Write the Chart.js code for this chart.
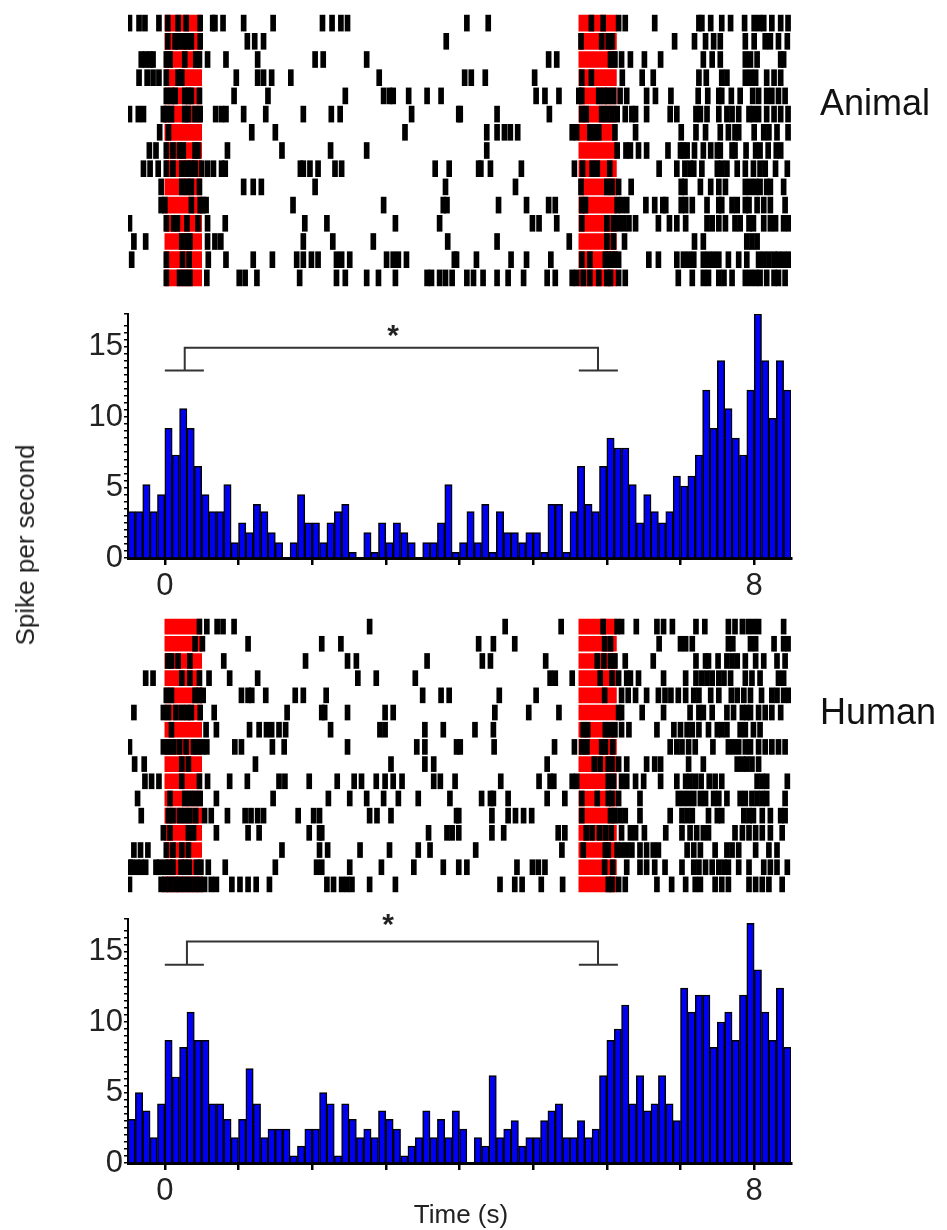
<!DOCTYPE html>
<html lang="en">
<head>
<meta charset="UTF-8">
<title>Raster and PSTH</title>
<script src="https://cdn.jsdelivr.net/npm/chart.js"></script>
<style>
  body { margin: 0; background: #fff; font-family: 'Liberation Sans', Arial, sans-serif; }
  .page { position: relative; width: 947px; height: 1230px; overflow: hidden; }
  .panel { position: absolute; left: 0; width: 947px; }
  .group { position: absolute; left: 820px; font-size: 36px; line-height: 1; color: #111; transform: translateY(-50%); }
  .ylabel { position: absolute; left: 25px; top: 545px; font-size: 26px; line-height: 1; color: #222;
            white-space: nowrap; transform: translate(-50%, -50%) rotate(-90deg); }
  .xlabel { position: absolute; left: 461px; top: 1214px; font-size: 26px; line-height: 1; color: #222;
            white-space: nowrap; transform: translate(-50%, -50%); }
</style>
</head>
<body>
<div class="page">
  <div class="panel" style="top:14px;height:273px"><canvas id="animalRaster"></canvas></div>
  <div class="panel" style="top:294px;height:316px"><canvas id="animalHist"></canvas></div>
  <div class="panel" style="top:618px;height:275px"><canvas id="humanRaster"></canvas></div>
  <div class="panel" style="top:899px;height:316px"><canvas id="humanHist"></canvas></div>
  <div class="group" style="top:103px">Animal</div>
  <div class="group" style="top:712px">Human</div>
  <div class="ylabel">Spike per second</div>
  <div class="xlabel">Time (s)</div>
</div>

<script>
  // time axis (s)
  const timeMin = -0.5, timeMax = 8.5;
  const timeTicks = [0, 1, 2, 3, 4, 5, 6, 7, 8];
  const timeTickLabels = [0, 8];
  const rateTickLabels = [0, 5, 10, 15];
  const rateMax = 17.3;

  // PSTH bins: 100 ms starting at -0.5 s
  const binStart = -0.5, binWidth = 0.1;

  // stimulus windows shaded in red on every trial
  const stimWindows = [[0, 0.5], [5.62, 6.13]];
  const spikeWidth = 0.068;

  const animalRate = [
    3.3, 3.3, 5.2, 3.3, 4.5, 9.2, 7.3, 10.6, 9.2, 6.5,
    4.5, 3.3, 3.3, 5.2, 1.1, 2.5, 1.8, 3.8, 3.3, 1.8,
    1.1, 0, 1.1, 4.5, 2.5, 2.5, 1.1, 2.5, 3.3, 3.8,
    0.4, 0, 1.8, 0.4, 2.5, 1.1, 2.5, 1.8, 1.1, 0,
    1.1, 1.1, 2.5, 5.2, 0.4, 1.1, 3.3, 1.1, 3.8, 0.4,
    3.3, 1.8, 1.8, 1.1, 1.8, 1.8, 0.4, 3.8, 3.8, 0.4,
    3.3, 6.5, 3.8, 3.3, 6.5, 8.5, 7.8, 7.8, 5.2, 2.5,
    4.5, 3.3, 2.5, 3.3, 5.8, 5.1, 5.8, 7.3, 11.9, 9.2,
    14.0, 10.6, 8.5, 7.3, 11.9, 17.3, 14.0, 9.9, 14.0, 11.9
  ];

  const humanRate = [
    3.1, 5.0, 3.7, 1.8, 4.2, 8.7, 6.1, 8.2, 10.7, 8.7,
    8.7, 4.2, 4.2, 3.1, 1.8, 3.1, 6.7, 4.2, 1.8, 2.4,
    2.4, 2.4, 0.5, 1.2, 2.4, 2.4, 5.0, 4.2, 0.5, 4.2,
    3.1, 1.8, 2.4, 1.8, 3.7, 3.1, 2.4, 0.5, 1.2, 1.8,
    3.7, 1.8, 3.1, 1.8, 3.7, 2.4, 0, 1.8, 1.2, 6.2,
    1.8, 2.4, 3.0, 1.2, 1.8, 1.8, 3.0, 3.7, 4.2, 1.8,
    1.8, 3.0, 1.8, 2.4, 6.2, 8.7, 9.5, 11.2, 4.2, 6.2,
    3.7, 4.2, 6.2, 4.2, 3.0, 12.4, 10.7, 11.9, 11.9, 8.2,
    10.0, 10.7, 8.7, 11.9, 17.0, 13.7, 10.7, 8.7, 12.4, 8.2
  ];

  // significance brackets: cap y, bridge y, left cap, right cap, stems, asterisk
  const animalBracket = { capY: 13.3, topY: 14.9, left: [0, 0.53], right: [5.62, 6.15], stems: [0.27, 5.88], star: [3.1, 15.95] };
  const humanBracket  = { capY: 14.05, topY: 15.7, left: [0, 0.53], right: [5.62, 6.15], stems: [0.30, 5.88], star: [3.03, 17.1] };

  // spike times (s), one array per trial
  const animalTrials = [
    [-0.48,-0.35,-0.27,-0.08,0.04,0.18,0.29,0.48,0.65,0.68,0.79,1.07,1.47,2.14,2.27,2.39,2.48,4.10,4.39,5.79,5.95,6.16,6.25,6.65,7.25,7.29,7.41,7.56,7.68,7.87,8.00,8.07,8.13,8.24,8.36,8.46],
    [0.04,0.14,0.18,0.25,0.30,0.36,0.48,1.12,1.22,1.34,3.82,5.65,5.93,6.02,6.07,6.92,7.19,7.34,7.45,7.54,7.88,8.00,8.15,8.22,8.33,8.45],
    [-0.32,-0.26,-0.20,-0.16,0.02,0.07,0.27,0.42,0.47,0.58,0.83,1.26,2.04,2.15,2.74,5.21,5.32,6.05,6.11,6.20,6.32,6.51,6.73,7.31,7.43,7.54,7.88,7.95,8.04,8.36,8.40],
    [-0.35,-0.24,-0.16,-0.08,0.02,0.18,0.23,0.97,1.26,1.34,1.45,1.71,2.91,4.07,4.16,4.35,5.02,5.66,5.79,6.21,6.48,6.63,7.25,7.35,7.56,7.63,7.88,7.95,8.02,8.17,8.27,8.36],
    [0.02,0.09,0.14,0.27,0.32,0.36,0.47,0.94,1.40,2.45,2.97,3.05,3.10,3.31,3.56,3.75,5.04,5.16,5.35,5.62,5.66,5.89,5.96,6.02,6.09,6.18,6.27,6.54,6.66,6.87,7.24,7.37,7.52,7.56,7.69,7.81,7.98,8.06,8.17,8.24,8.33,8.42],
    [-0.48,-0.36,-0.29,-0.02,0.02,0.09,0.27,0.32,0.41,0.48,0.69,0.77,0.83,1.07,1.37,1.88,2.26,2.38,3.35,3.99,4.01,4.51,5.22,5.66,5.72,5.93,6.00,6.07,6.14,6.25,6.34,6.39,6.54,6.86,6.95,7.21,7.27,7.36,7.52,7.63,7.70,7.79,7.93,7.99,8.06,8.17,8.27,8.36,8.46],
    [-0.07,0.05,1.18,1.50,3.26,4.37,4.51,4.61,4.69,4.79,5.53,5.59,5.77,5.82,5.89,6.11,6.39,7.01,7.21,7.34,7.54,7.65,7.74,7.79,8.00,8.13,8.20,8.31,8.46],
    [-0.21,-0.12,0.02,0.11,0.20,0.25,0.41,0.45,0.85,1.59,2.25,2.74,4.37,6.14,6.26,6.32,6.43,6.54,6.83,7.00,7.04,7.09,7.19,7.31,7.41,7.50,7.54,7.70,7.74,7.89,8.02,8.08,8.19,8.30,8.36],
    [-0.29,-0.20,-0.09,0.02,0.11,0.23,0.30,0.36,0.41,0.50,0.58,0.66,0.77,0.82,1.84,1.88,1.97,2.08,2.31,2.40,3.67,3.86,4.26,4.29,4.42,4.84,5.56,5.67,5.80,5.87,6.04,6.71,6.95,7.06,7.13,7.18,7.29,7.50,7.56,7.63,7.77,7.88,7.99,8.08,8.15,8.29,8.45],
    [-0.05,0.23,0.30,0.36,0.47,1.07,1.20,1.31,2.04,3.81,4.76,5.65,6.00,6.07,6.16,6.33,7.01,7.06,7.27,7.41,7.52,7.61,7.88,7.95,8.02,8.08,8.17,8.22,8.40],
    [-0.05,0.00,0.36,0.48,0.52,0.56,1.74,2.97,3.78,3.83,4.53,4.91,5.21,5.30,5.66,5.71,6.14,6.20,6.27,6.53,6.65,6.76,6.80,7.01,7.07,7.16,7.36,7.52,7.56,7.70,7.77,7.88,7.93,8.04,8.13,8.22,8.42],
    [-0.48,0.02,0.12,0.17,0.30,0.45,0.58,0.82,1.90,2.20,3.13,3.73,4.99,5.08,5.32,5.66,6.00,6.09,6.16,6.23,6.30,6.39,6.70,6.85,6.95,7.07,7.36,7.43,7.52,7.61,7.74,7.81,7.93,7.99,8.13,8.22,8.29,8.40,8.47],
    [-0.42,-0.26,0.23,0.30,0.34,0.58,0.68,0.76,1.88,2.28,2.83,3.84,4.51,5.49,6.00,6.09,6.24,7.19,7.31,7.90,7.97,8.04],
    [-0.45,0.02,0.24,0.33,0.59,0.83,1.20,1.46,1.79,1.88,1.99,2.08,2.33,2.40,2.51,3.01,3.10,3.17,3.28,3.93,3.96,4.23,4.70,4.91,5.24,5.66,5.77,5.98,6.02,6.07,6.11,6.16,6.57,6.70,6.95,7.04,7.11,7.18,7.31,7.38,7.45,7.52,7.65,7.79,7.90,8.06,8.13,8.20,8.27,8.33,8.40,8.47],
    [0.02,0.20,0.27,0.34,0.57,1.01,1.09,1.25,1.83,2.33,2.45,2.74,2.90,3.13,3.56,3.62,3.73,3.81,3.90,4.10,4.19,4.32,4.51,4.66,4.87,5.19,5.30,5.53,5.59,5.68,5.77,5.89,6.00,6.05,6.16,6.25,6.97,7.16,7.31,7.38,7.52,7.59,7.70,7.88,7.95,8.02,8.08,8.17,8.27,8.33,8.42]
  ];

  const humanTrials = [
    [0.47,0.57,0.71,0.79,0.94,2.78,4.62,5.38,5.95,6.14,6.20,6.40,6.68,6.77,6.89,7.21,7.33,7.65,7.74,7.84,7.92,7.99,8.06,8.40],
    [0.41,0.51,1.13,2.13,2.39,4.26,4.46,4.75,5.97,6.05,6.71,7.00,7.07,7.16,7.65,7.71,7.95,8.02,8.27,8.40,8.46],
    [0.04,0.09,0.18,0.34,0.80,1.91,2.48,2.60,3.56,4.31,4.42,5.17,5.87,5.96,6.05,6.11,6.25,6.63,7.21,7.34,7.38,7.51,7.63,7.70,7.77,7.88,8.02,8.13,8.31,8.42],
    [-0.26,-0.16,0.23,0.34,0.47,0.60,0.88,1.26,2.62,2.87,3.40,5.23,5.30,5.53,5.91,6.07,6.16,6.27,6.32,6.43,6.77,7.07,7.21,7.29,7.36,7.43,7.52,7.59,7.68,7.88,7.97,8.08,8.33,8.40],
    [0.02,0.09,0.41,0.47,0.52,1.04,1.13,1.18,1.37,1.77,1.88,2.19,3.50,3.75,3.86,4.54,5.04,5.97,6.20,6.29,6.39,6.54,6.70,6.79,6.87,6.97,7.07,7.18,7.25,7.41,7.52,7.69,7.77,7.86,7.95,8.10,8.24,8.31,8.40,8.47],
    [-0.42,-0.02,0.05,0.15,0.23,0.30,0.36,0.48,0.67,1.66,2.13,2.17,2.48,2.99,3.10,4.48,4.94,5.35,6.16,6.20,6.48,6.77,7.13,7.25,7.31,7.43,7.63,7.72,7.84,7.90,7.95,8.06,8.15,8.24,8.36],
    [0.09,0.56,0.70,1.15,1.28,1.38,1.45,1.55,1.64,2.25,2.92,2.99,3.53,3.78,4.21,4.46,5.68,5.74,5.98,6.05,6.11,6.20,6.30,6.68,6.91,7.00,7.09,7.16,7.25,7.38,7.50,7.56,7.63,7.81,7.88,7.99,8.08],
    [-0.48,-0.02,0.05,0.12,0.20,0.29,0.39,0.44,0.51,0.57,0.95,1.04,1.46,1.62,2.48,3.42,3.53,3.96,4.01,4.47,5.29,5.56,5.66,5.73,5.93,5.98,6.08,6.86,6.95,7.02,7.11,7.20,7.44,7.65,7.72,7.79,7.88,7.95,8.06,8.15,8.24,8.33,8.42],
    [-0.41,-0.28,0.23,0.32,1.23,3.07,3.53,3.65,5.19,5.83,5.91,6.02,6.07,6.16,6.27,6.54,6.65,6.73,7.11,7.31,7.77,7.84,7.90,7.97,8.06],
    [-0.27,-0.18,-0.08,0.23,0.47,0.58,0.88,1.12,1.55,1.63,1.96,2.34,2.57,2.67,2.87,2.99,3.10,3.22,3.65,3.74,3.94,4.56,5.08,5.23,5.28,5.53,5.59,6.02,6.09,6.20,6.27,6.39,6.50,6.73,6.95,7.07,7.13,7.20,7.28,7.39,7.47,7.56,8.04,8.11,8.17,8.45],
    [-0.37,0.07,0.27,0.34,0.41,0.48,0.70,1.47,2.22,2.51,2.74,2.97,3.17,3.44,3.87,4.30,4.42,4.46,4.66,5.19,5.43,5.66,5.87,6.02,6.07,6.16,6.45,6.97,7.04,7.11,7.18,7.27,7.34,7.45,7.52,7.63,7.81,7.88,7.97,8.04,8.11,8.17,8.42],
    [-0.32,0.05,0.11,0.20,0.27,0.34,0.42,0.54,0.63,0.85,1.09,1.17,1.26,1.34,1.81,2.02,2.10,2.78,2.88,3.07,3.96,3.99,4.44,4.66,4.76,4.87,4.98,5.66,6.05,6.11,6.18,6.25,6.45,6.86,7.02,7.09,7.16,7.38,7.50,7.56,7.86,7.93,7.99,8.11,8.22,8.36,8.42],
    [-0.02,0.07,0.32,0.39,0.70,1.13,1.28,1.96,2.10,2.13,3.58,3.83,3.90,3.99,4.44,4.60,5.34,5.43,5.72,5.80,5.90,5.98,6.06,6.20,6.32,6.39,6.51,6.80,7.02,7.13,7.22,7.31,7.38,7.74,7.84,7.93,8.02,8.11,8.22,8.38],
    [-0.42,-0.33,-0.23,0.02,0.11,0.23,0.32,1.59,2.10,2.21,2.65,3.05,3.44,3.60,4.22,5.39,5.68,5.98,6.02,6.14,6.20,6.27,6.34,6.45,6.54,6.63,6.70,7.09,7.18,7.27,7.47,7.63,7.70,7.79,8.02,8.20,8.31],
    [-0.47,-0.45,-0.38,-0.32,-0.26,-0.12,-0.07,0.00,0.06,0.11,0.22,0.27,0.33,0.43,0.49,0.59,0.82,1.50,2.06,2.13,2.51,2.94,3.38,3.78,3.99,4.10,4.78,4.99,5.07,5.16,5.97,6.08,6.27,6.45,6.54,6.65,6.79,7.02,7.18,7.25,7.34,7.43,7.52,7.59,7.65,7.79,7.93,8.13,8.22,8.31,8.45],
    [-0.48,-0.05,0.00,0.07,0.14,0.20,0.27,0.34,0.41,0.48,0.54,0.63,0.70,0.91,1.02,1.13,1.24,1.42,2.20,2.29,2.40,2.47,2.54,2.78,3.13,4.55,4.75,4.85,5.11,5.40,6.02,6.07,6.16,6.25,6.68,6.88,7.07,7.20,7.27,7.47,7.56,7.65,7.93,8.02,8.11,8.20,8.38]
  ];

  const fontFamily = "'Liberation Sans', Arial, sans-serif";
  Chart.defaults.font.family = fontFamily;

  function rasterChart(id, trials, thickness) {
    const spikes = [], bands = [];
    trials.forEach((row, i) => {
      row.forEach(t => spikes.push({ x: [t - spikeWidth / 2, t + spikeWidth / 2], y: i + 1 }));
      stimWindows.forEach(w => bands.push({ x: w, y: i + 1 }));
    });
    return new Chart(document.getElementById(id), {
      type: 'bar',
      data: {
        datasets: [
          { data: spikes, backgroundColor: '#000', barThickness: thickness, grouped: false },
          { data: bands, backgroundColor: '#ff0000', barThickness: thickness, grouped: false }
        ]
      },
      options: {
        indexAxis: 'y',
        animation: false,
        responsive: true,
        maintainAspectRatio: false,
        events: [],
        layout: { padding: { left: 128, right: 156, top: 0, bottom: 0 } },
        plugins: { legend: { display: false }, tooltip: { enabled: false } },
        scales: {
          x: { type: 'linear', min: timeMin, max: timeMax, offset: false, display: false },
          y: { type: 'linear', min: 0.5, max: trials.length + 0.5, reverse: true, offset: false, display: false }
        }
      }
    });
  }

  // asterisk over the bracket
  const starPlugin = {
    id: 'star',
    afterDatasetsDraw(chart, args, opts) {
      const { ctx, scales } = chart;
      const px = scales.x.getPixelForValue(opts.at[0]);
      const py = scales.y.getPixelForValue(opts.at[1]);
      ctx.save();
      ctx.font = 'bold 30px ' + fontFamily;
      ctx.fillStyle = '#222';
      ctx.textAlign = 'center';
      ctx.textBaseline = 'alphabetic';
      ctx.fillText('*', px, py + 12);
      ctx.restore();
    }
  };

  function histChart(id, rates, br) {
    const bars = rates.map((v, i) => ({ x: binStart + binWidth * (i + 0.5), y: v }));
    const line = pts => ({ type: 'line', data: pts, borderColor: '#333', borderWidth: 2, pointRadius: 0, fill: false, order: 0 });
    const tickFont = { family: fontFamily, size: 31 };
    return new Chart(document.getElementById(id), {
      type: 'bar',
      data: {
        datasets: [
          { type: 'bar', data: bars, backgroundColor: '#0000f5', borderColor: '#000', borderWidth: 1.5,
            barPercentage: 1, categoryPercentage: 1, order: 1 },
          line([{ x: br.left[0], y: br.capY }, { x: br.left[1], y: br.capY }]),
          line([{ x: br.stems[0], y: br.capY }, { x: br.stems[0], y: br.topY }, { x: br.stems[1], y: br.topY }, { x: br.stems[1], y: br.capY }]),
          line([{ x: br.right[0], y: br.capY }, { x: br.right[1], y: br.capY }])
        ]
      },
      plugins: [starPlugin],
      options: {
        animation: false,
        responsive: true,
        maintainAspectRatio: false,
        events: [],
        layout: { padding: { left: 0, right: 156, top: 20, bottom: 0 } },
        plugins: { legend: { display: false }, tooltip: { enabled: false }, star: { at: br.star } },
        scales: {
          x: {
            type: 'linear', min: timeMin, max: timeMax, offset: false,
            afterBuildTicks: s => { s.ticks = timeTicks.map(v => ({ value: v })); },
            afterFit: s => { s.height = 52; },
            border: { display: true, color: '#000', width: 3 },
            grid: { drawOnChartArea: false, drawTicks: true, tickLength: 7, color: '#000', lineWidth: 2.5, offset: false },
            ticks: { autoSkip: false, maxRotation: 0, padding: 3, color: '#222', font: tickFont,
                     callback: v => timeTickLabels.includes(v) ? String(v) : '' }
          },
          y: {
            type: 'linear', min: 0, max: rateMax,
            afterFit: s => { s.width = 128; },
            border: { display: true, color: '#000', width: 2 },
            grid: { drawOnChartArea: false, drawTicks: true, tickLength: 4, color: '#000', lineWidth: 1.5 },
            ticks: { stepSize: 0.5, autoSkip: false, padding: 1, color: '#222', font: tickFont,
                     callback: v => rateTickLabels.includes(v) ? String(v) : '' }
          }
        }
      }
    });
  }

  rasterChart('animalRaster', animalTrials, 16);
  histChart('animalHist', animalRate, animalBracket);
  rasterChart('humanRaster', humanTrials, 15);
  histChart('humanHist', humanRate, humanBracket);
</script>
</body>
</html>
